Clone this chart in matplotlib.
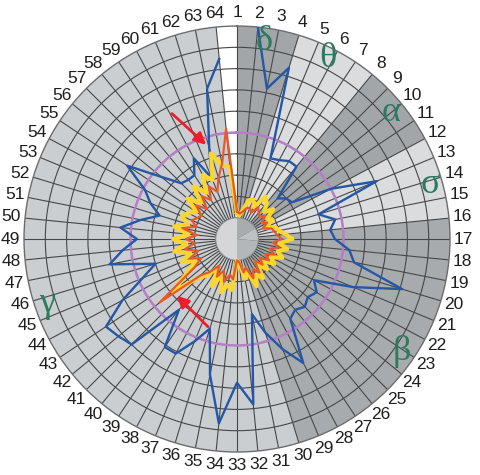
import numpy as np
import matplotlib
matplotlib.use("Agg")
import matplotlib.pyplot as plt

nan = np.nan

# 64 positions around the circle, value 1 sits at the top
positions = list(range(1, 65))

blue = [nan, 10.0, 7.2, 8.4, 4.1, 4.2, 4.4, 4.4, 2.7, 3.0, 3.1, 5.0, 7.1, 4.0, 4.7, 4.4,
        4.6, 5.3, 5.6, 8.1, 5.9, 4.1, 4.5, 4.3, 4.5, 4.3, 4.5, 6.6, 5.6, 4.6, 3.6, 7.8,
        6.75, 8.7, 6.5, 4.4, 5.2, 6.1, 6.1, 4.3, 7.0, 7.2, 7.4, 6.1, 4.8, 4.0, 6.1, 5.4,
        4.7, 5.5, 4.6, 3.8, 4.4, 4.9, 6.2, 4.6, 3.7, 3.6, 3.6, 4.3, 3.1, 4.5, 7.2, 8.5]

yellow = [1.2, 1.1, 1.4, 1.9, 2.0, 1.7, 2.4, 2.2, 1.8, 2.2, 1.7, 1.9, 1.4, 1.9, 2.0, 2.3,
          2.6, 2.0, 2.4, 2.0, 2.3, 1.8, 2.1, 1.6, 2.0, 1.5, 2.2, 1.9, 2.4, 1.6, 1.9, 1.2,
          1.0, 2.4, 2.2, 2.6, 1.8, 2.5, 1.6, 2.2, 2.6, 3.9, 2.8, 2.2, 2.8, 2.3, 3.0, 2.4,
          3.0, 2.3, 3.0, 2.4, 2.8, 2.6, 2.3, 3.0, 2.4, 3.2, 2.6, 3.4, 3.0, 4.2, 3.5, 3.4]

orange = [1.3, 1.2, 1.3, 1.5, 1.6, 1.4, 1.8, 1.6, 1.5, 1.7, 1.4, 1.6, 1.3, 1.7, 1.8, 1.9,
          2.1, 1.7, 2.0, 1.6, 1.9, 1.5, 1.8, 1.4, 1.7, 1.3, 1.9, 1.6, 2.0, 1.4, 1.6, 1.1,
          1.0, 1.9, 1.7, 2.1, 1.6, 2.0, 1.5, 2.0, 2.4, 4.7, 2.4, 1.9, 2.4, 1.9, 2.5, 2.0,
          2.4, 1.9, 2.6, 2.0, 2.3, 2.1, 2.0, 2.5, 2.0, 2.6, 2.2, 2.8, 2.4, 3.0, 3.6, 5.2]

# sector groups: (symbol, first sector, last sector); sector k spans position k to k+1
zones = [("δ", 1, 3), ("θ", 4, 7), ("α", 8, 11), ("σ", 12, 15), ("β", 16, 29), ("γ", 30, 63)]
zone_tone = {"δ": "#a3a6a9", "θ": "#dadcde", "α": "#a3a6a9", "σ": "#dadcde",
             "β": "#a8abae", "γ": "#cbced0"}
# where each symbol is written (degrees, radius)
zone_text = {"δ": (7.8, 9.35), "θ": (26.8, 9.47), "α": (50.6, 9.34),
             "σ": (74.2, 9.45), "β": (124.3, 9.36), "γ": (251.4, 9.43)}

step = 2 * np.pi / 64
theta = np.array([(p - 1) * step for p in positions])

fig = plt.figure(figsize=(4.8, 4.75), dpi=100)
ax = fig.add_axes([0.05, 0.0484, 0.8875, 0.8968], projection="polar")
ax.set_theta_zero_location("N")
ax.set_theta_direction(-1)
ax.set_ylim(0, 10)

# background sectors
tones = ["#ffffff"] * 64
for name, a, b in zones:
    for k in range(a, b + 1):
        tones[k - 1] = zone_tone[name]
ax.bar(theta + step / 2, 10, width=step, bottom=0, color=tones, edgecolor="none",
       align="center", zorder=1)

ax.set_xticks(theta)
ax.set_yticks(range(1, 10))
ax.set_xticklabels([])
ax.set_yticklabels([])
ax.grid(True, color="#454749", lw=0.8)
ax.spines["polar"].set_color("#6a6c6e")
ax.spines["polar"].set_linewidth(1.0)

# centre hub
hub_parts = [(0, 60, "#a9acaf"), (60, 95, "#bec1c3"), (95, 180, "#b4b7b9"), (180, 360, "#d4d6d8")]
for a0, a1, c in hub_parts:
    ax.bar(np.deg2rad((a0 + a1) / 2), 1.0, width=np.deg2rad(a1 - a0), bottom=0,
           color=c, edgecolor="none", zorder=2.8)
tt = np.linspace(0, 2 * np.pi, 200)
ax.plot(tt, np.full_like(tt, 1.0), color="#8f9294", lw=0.8, zorder=2.9)

# reference circle
ax.plot(tt, np.full_like(tt, 5.0), color="#b47fc6", lw=1.8, zorder=3)

def closed(vals):
    v = list(vals) + [vals[0]]
    t = list(theta) + [theta[0]]
    return t, v

t, v = closed(blue)
ax.plot(t, v, color="#2457a5", lw=1.7, zorder=4)
t, v = closed(yellow)
ax.plot(t, v, color="#fbd62c", lw=3.0, zorder=4.2, solid_joinstyle="round")
t, v = closed(orange)
ax.plot(t, v, color="#e8582a", lw=1.6, zorder=4.4)

# position numbers round the rim
for p, a in zip(positions, theta):
    ax.text(a, 10.64, str(p), ha="center", va="center", fontsize=12.5,
            family=["Liberation Sans Narrow", "Liberation Sans"], color="#1e1e1e")

for name, (deg, r) in zone_text.items():
    ax.text(np.deg2rad(deg), r, name, ha="center", va="center", fontsize=26,
            family="Liberation Serif", color="#2e7a5e", zorder=5)

# pointers
arrow = dict(arrowstyle="-|>,head_length=0.7,head_width=0.35", color="#ee1c2c", lw=2)
ax.annotate("", xy=(np.deg2rad(342.7), 4.54), xytext=(np.deg2rad(332.2), 6.76),
            arrowprops=arrow, zorder=6)
ax.annotate("", xy=(np.deg2rad(228.6), 3.88), xytext=(np.deg2rad(196.8), 4.40),
            arrowprops=arrow, zorder=6)

fig.savefig("out.png", dpi=100, facecolor="white")
